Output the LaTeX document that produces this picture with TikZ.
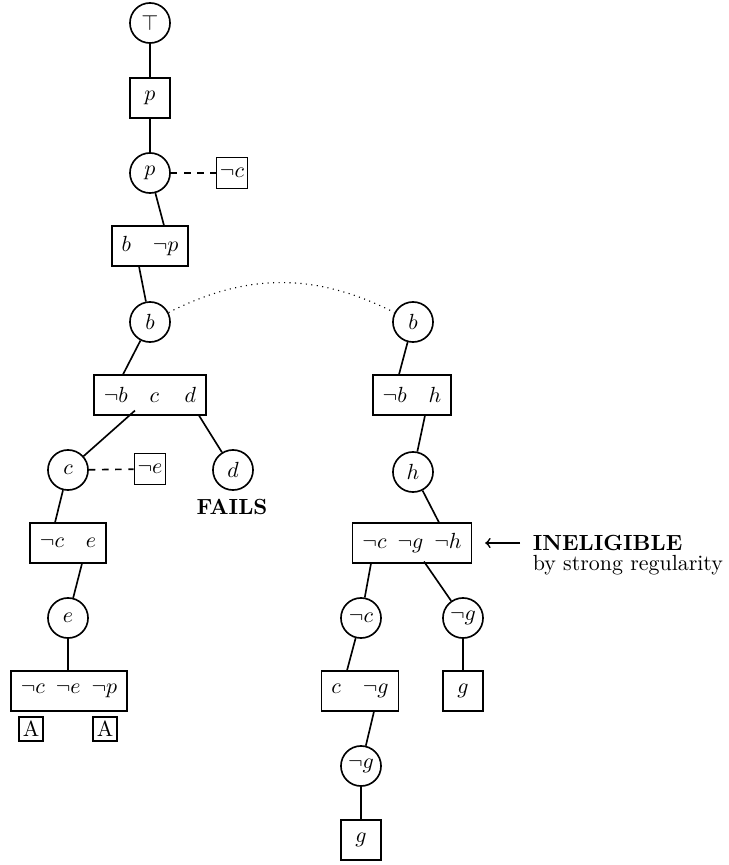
\documentclass[tikz,border=0pt]{standalone}
\usepackage{amsmath}
\usetikzlibrary{calc}
\begin{document}
\begin{tikzpicture}[x=0.4566pt,y=-0.4566pt,line width=0.75pt]
	\tikzstyle{every node}+=[inner sep=0pt]
	\tikzstyle{lit}=[draw,circle,minimum size=18.3pt]
	\tikzstyle{clause}=[draw,rectangle,minimum height=18pt,minimum width=18pt,inner xsep=4.5pt]
	\tikzstyle{unit}=[draw,rectangle,minimum size=14.2pt,inner sep=1pt]
	\tikzstyle{ann}=[draw,rectangle,minimum size=10.8pt,inner sep=1pt]
	\useasboundingbox (0,0) rectangle (729,865);
	\node [lit] (top) at (150,23) {$\top$};
	\node [clause] (pbox) at (150,98) {$p$};
	\node [lit] (p) at (150,173) {$p$};
	\node [unit] (nc) at (232,173) {$\neg c$};
	\node [clause] (bnp) at (150,246) {$b\quad\neg p$};
	\node [lit] (b) at (150,322) {$b$};
	\node [clause] (nbcd) at (150,395) {$\neg b\quad c\quad\, d$};
	\node [lit] (c) at (68,470) {$c$};
	\node [unit] (ne) at (150,469) {$\neg e$};
	\node [lit] (d) at (233,470) {$d$};
	\node (fails) at (232,507) {\textbf{FAILS}};
	\node [clause] (nce) at (68,543) {$\neg c\quad e$};
	\node [lit] (e) at (68,618) {$e$};
	\node [clause] (ncnenp) at (69,691) {$\neg c\enspace\neg e\enspace\neg p$};
	\node [ann] (a1) at (31,729) {A};
	\node [ann] (a2) at (105,729) {A};
	\node [lit] (b2) at (413,322) {$b$};
	\node [clause] (nbh) at (412,395) {$\neg b\quad h$};
	\node [lit] (h) at (413,472) {$h$};
	\node [clause] (ncngnh) at (412,543) {$\neg c\enspace\neg g\enspace\neg h$};
	\node [anchor=west] (inel) at (532,543) {\textbf{INELIGIBLE}};
	\node [anchor=base west] (reg) at ($(inel.base west)+(0,20)$) {by strong regularity};
	\node [lit] (nc2) at (361,618) {$\neg c$};
	\node [lit] (ng) at (463,618) {$\neg g$};
	\node [clause] (cng) at (360,691) {$c\quad\neg g$};
	\node [clause] (g) at (463,691) {$g$};
	\node [lit] (ng2) at (361,766) {$\neg g$};
	\node [clause] (g2) at (361,840) {$g$};
	\draw (top) -- (pbox);
	\draw (pbox) -- (p);
	\draw [dashed] (p) -- (nc);
	\draw (p) -- ($(bnp.north)+(14,0)$);
	\draw ($(bnp.south)+(-11,0)$) -- (b);
	\draw (b) -- ($(nbcd.north)+(-27,0)$);
	\draw ($(nbcd.south)+(-15,-5)$) -- (c);
	\draw ($(nbcd.south)+(49,0)$) -- (d);
	\draw [dashed] (c) -- (ne);
	\draw (c) -- ($(nce.north)+(-13,0)$);
	\draw ($(nce.south)+(14,0)$) -- (e);
	\draw (e) -- (e |- ncnenp.north);
	\draw [dotted,line width=0.5pt] (b) to [bend left=27] (b2);
	\draw (b2) -- ($(nbh.north)+(-13,0)$);
	\draw ($(nbh.south)+(13,0)$) -- (h);
	\draw (h) -- ($(ncngnh.north)+(27,0)$);
	\draw [->] ($(inel.west)+(-12,0)$) -- ($(ncngnh.east)+(13,0)$);
	\draw ($(ncngnh.south)+(-41,0)$) -- (nc2);
	\draw ($(ncngnh.south)+(12,-2)$) -- (ng);
	\draw (nc2) -- ($(cng.north)+(-13,0)$);
	\draw (ng) -- (g);
	\draw ($(cng.south)+(14,0)$) -- (ng2);
	\draw (ng2) -- (g2);
\end{tikzpicture}
\end{document}
